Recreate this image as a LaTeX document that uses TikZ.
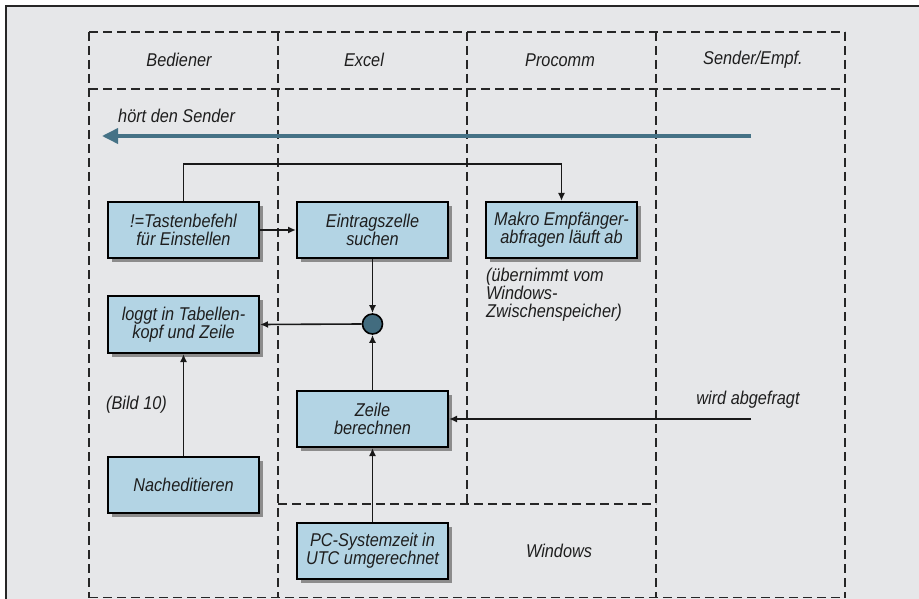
\documentclass[tikz,border=0pt]{standalone}
\usepackage{fontspec}
\setmainfont{Liberation Sans}[FakeStretch=0.88]
\usetikzlibrary{arrows.meta,shadows}
\definecolor{bgray}{HTML}{E6E7E9}
\definecolor{boxblue}{HTML}{B3D4E4}
\definecolor{petrol}{HTML}{457286}
\definecolor{txt}{HTML}{1E1E1E}
\tikzset{
  lane/.style={line width=1.7pt, dash pattern=on 9pt off 5pt, black!85},
  stepbox/.style={draw, line width=2pt, fill=boxblue, minimum width=151pt, minimum height=56pt,
    inner sep=0pt, align=center, text=txt,
    drop shadow={shadow xshift=4pt, shadow yshift=-4pt, fill=black!45, opacity=1}},
  conn/.style={line width=1.6pt, black!90, -{Latex[length=8pt,width=7pt]}},
  lbl/.style={text=txt, inner sep=0pt, align=left},
}
\begin{document}
\begin{tikzpicture}[x=1pt,y=-1pt,font=\fontsize{18.5}{18}\selectfont\itshape]
\useasboundingbox (0,0) rectangle (919,599);
\fill[white] (0,0) rectangle (919,599);
\fill[bgray] (6,6) rectangle (919,599);
\draw[line width=1.4pt, black!85] (919,6) -- (6,6) -- (6,599);
% lanes
\draw[lane] (89,32) -- (845,32);
\draw[lane] (89,89) -- (845,89);
\draw[lane] (89,32) -- (89,597.5);
\draw[lane] (278,32) -- (278,597.5);
\draw[lane] (467,32) -- (467,504);
\draw[lane] (656,32) -- (656,597.5);
\draw[lane] (845,32) -- (845,597.5);
\draw[lane] (278,504) -- (656,504);
\draw[lane] (89,597.5) -- (845,597.5);
% headers
\node[lbl] (hBed) at (179,60) {Bediener};
\node[lbl] (hExc) at (364,60) {Excel};
\node[lbl] (hPro) at (560,60) {Procomm};
\node[lbl] (hSen) at (753,60) {Sender/Empf.};
% blue arrow
\coordinate (hsA) at (751,136);
\coordinate (hsB) at (102,136);
\draw[petrol, line width=3.6pt, -{Triangle[length=16pt,width=15pt]}] (hsA) -- (hsB);
\node[lbl, anchor=west] (hs) at (118,116) {hört den Sender};
% boxes
\node[stepbox] (tast) at (183.5,230) {!=Tastenbefehl\\für Einstellen};
\node[stepbox] (eintr) at (372.5,230) {Eintragszelle\\suchen};
\node[stepbox] (makro) at (561.5,230) {Makro Empfänger-\\abfragen läuft ab};
\node[stepbox, minimum height=57pt] (loggt) at (183.5,324.5) {loggt in Tabellen-\\kopf und Zeile};
\node[stepbox] (zeile) at (372.5,419) {Zeile\\berechnen};
\node[stepbox] (nach) at (183.5,485) {Nacheditieren};
\node[stepbox] (pc) at (372.5,551) {PC-Systemzeit in\\UTC umgerechnet};
\node[circle, draw, line width=1.6pt, fill=petrol!95!black, minimum size=20pt, inner sep=0pt] (knot) at (372.5,324) {};
% labels
\node[lbl, anchor=west] (ueb) at (486,295) {(übernimmt vom\\Windows-\\Zwischenspeicher)};
\node[lbl, anchor=west] (bild) at (106,405) {(Bild 10)};
\node[lbl] (wird) at (748,400) {wird abgefragt};
\node[lbl] (win) at (559,551) {Windows};
% connectors
\coordinate (topline) at (0,164);
\draw[conn] (tast.north) -- (tast.north |- topline) -| (makro.north);
\draw[conn] (tast.east) -- (eintr.west);
\draw[conn] (eintr.south) -- (knot.north);
\draw[conn] (zeile.north) -- (knot.south);
\draw[conn] (knot.west) -- (loggt.east);
\draw[conn] (nach.north) -- (loggt.south);
\draw[conn] (pc.north) -- (zeile.south);
\coordinate (waA) at (751,419);
\draw[conn] (waA) -- (zeile.east);
\end{tikzpicture}
\end{document}
